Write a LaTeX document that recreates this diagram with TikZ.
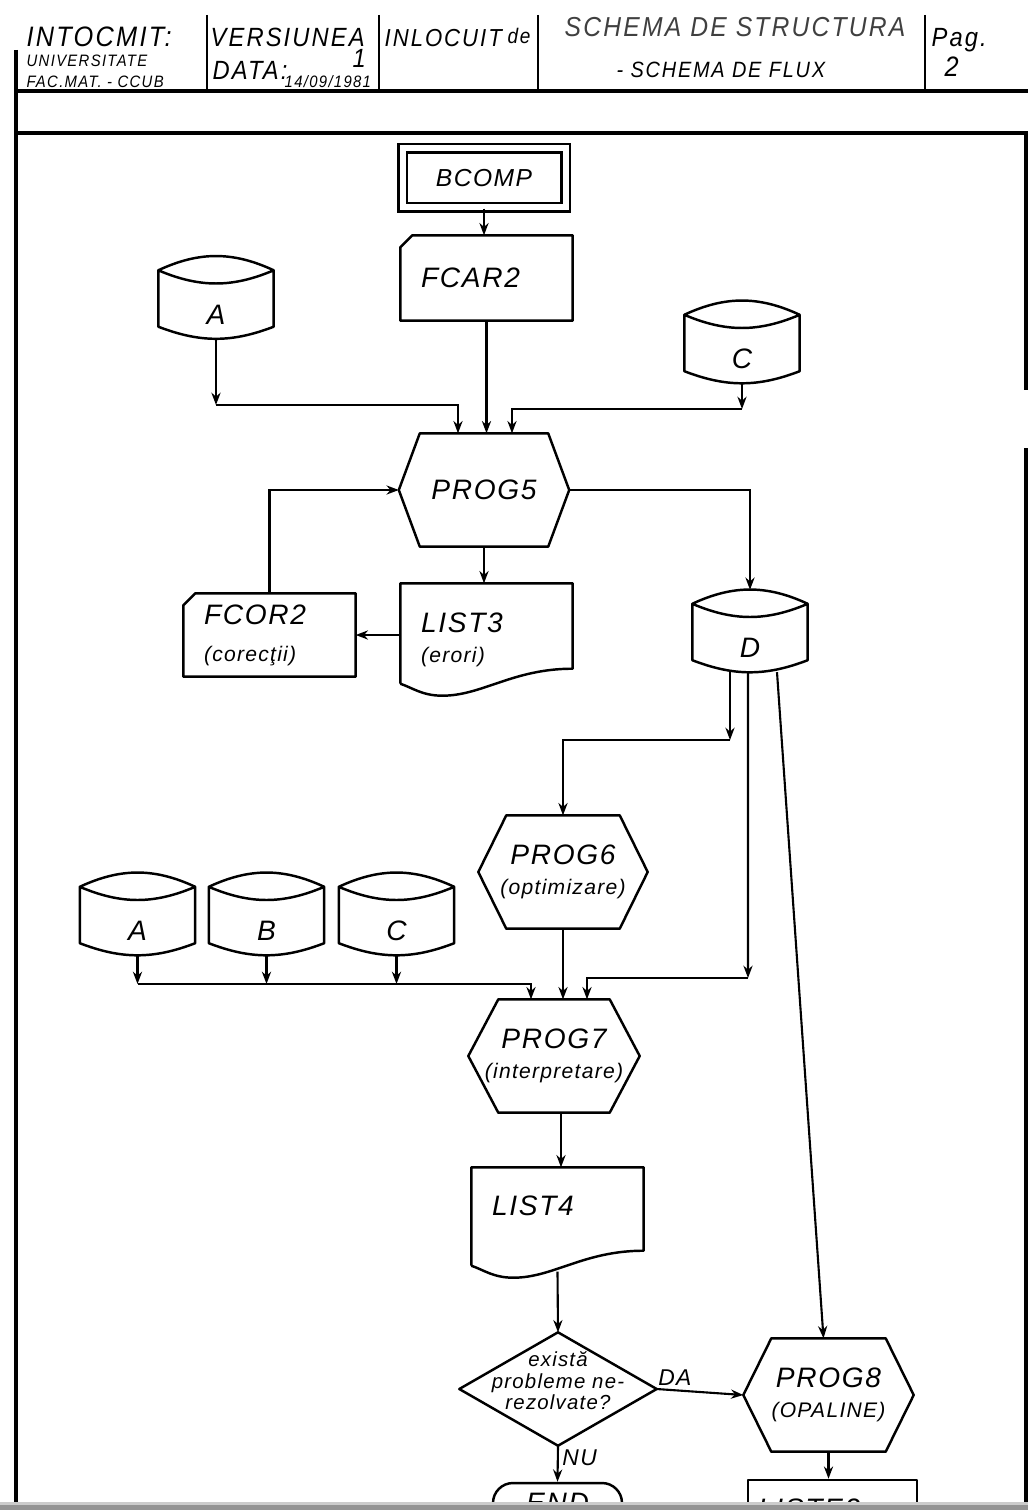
\documentclass[tikz,border=0pt]{standalone}
\usepackage{fontspec}
\setmainfont{Liberation Sans}[LetterSpace=6]
\newfontfamily\headfont{Liberation Sans}[LetterSpace=8, FakeStretch=0.9]
\usepackage{tikz}
\usetikzlibrary{positioning,arrows.meta}
\newcommand{\subtext}[1]{{\fontsize{6}{7}\selectfont #1}}

\begin{document}
\begin{tikzpicture}[
  shapeline/.style={line width=0.7pt, line join=round},
  frameline/.style={line width=1pt},
  flow/.style={-{Stealth[length=3.5pt,width=2.6pt]}, line width=0.6pt},
  outlined/.style={append after command={\pgfextra{\let\thisnode\tikzlastnode
    \begin{pgfinterruptpath}\draw[shapeline] #1;\end{pgfinterruptpath}}}},
  lettering/.style={font=\itshape\fontsize{8}{8.5}\selectfont},
  small/.style={font=\itshape\fontsize{5.8}{6}\selectfont},
  lbl/.style={font=\itshape\fontsize{6.5}{7}\selectfont, inner sep=1pt},
  head/.style={font=\headfont\itshape\fontsize{7.5}{8}\selectfont, inner sep=0pt, anchor=base west},
  headsmall/.style={head, font=\headfont\itshape\fontsize{4.7}{5}\selectfont},
  startbox/.style={draw, double, double distance=0.06cm, line width=0.6pt, inner sep=0pt,
    minimum width=1.63cm, minimum height=0.59cm, font=\itshape\fontsize{7}{8}\selectfont},
  hexbox/.style 2 args={lettering, align=center, inner sep=0pt, minimum width=#1, minimum height=1.12cm,
    outlined={([xshift=#2]\thisnode.north west) -- ([xshift=-#2]\thisnode.north east) -- (\thisnode.east)
      -- ([xshift=-#2]\thisnode.south east) -- ([xshift=#2]\thisnode.south west) -- (\thisnode.west) -- cycle}},
  disk/.style={lettering, inner sep=0pt, minimum width=1.14cm, text height=0.67cm, text depth=0.14cm,
    outlined={([yshift=-0.14cm]\thisnode.north west) to[bend left=25] ([yshift=-0.14cm]\thisnode.north east)
      to[bend left=23] ([yshift=-0.14cm]\thisnode.north west) -- ([yshift=0.12cm]\thisnode.south west)
      to[bend right=21] ([yshift=0.12cm]\thisnode.south east) -- ([yshift=-0.14cm]\thisnode.north east)}},
  card/.style={lettering, align=left, text width=1.31cm, inner xsep=0.2cm, inner ysep=0pt, minimum height=#1,
    outlined={([xshift=0.12cm]\thisnode.north west) -- (\thisnode.north east) -- (\thisnode.south east)
      -- (\thisnode.south west) -- ([yshift=-0.12cm]\thisnode.north west) -- cycle}},
  doc/.style={lettering, align=left, text width=1.31cm, inner xsep=0.2cm, inner ysep=0pt, minimum height=#1,
    outlined={([yshift=0.12cm]\thisnode.south west) -- (\thisnode.north west) -- (\thisnode.north east)
      -- ([yshift=0.27cm]\thisnode.south east) .. controls +(-0.6,0) and +(0.4,0) .. ([xshift=0.42cm]\thisnode.south west)
      .. controls +(-0.2,0) and +(0.12,-0.04) .. ([yshift=0.12cm]\thisnode.south west)}},
  decision/.style={small, align=center, inner sep=0pt, minimum width=1.96cm, minimum height=1.12cm,
    text depth=0.17cm,
    outlined={(\thisnode.north) -- (\thisnode.east) -- (\thisnode.south) -- (\thisnode.west) -- cycle}},
  terminal/.style={draw, shapeline, lettering, rounded corners=0.2cm, inner sep=0pt, minimum width=1.29cm,
    text height=0.29cm, text depth=0.2cm},
  listing/.style={draw, shapeline, lettering, align=left, text width=1.49cm, inner xsep=0.1cm, inner ysep=0pt,
    text height=0.38cm, text depth=0.3cm},
]
\useasboundingbox (0,0) rectangle (10.28,-15.10);
\fill[white] (0,0) rectangle (10.28,-15.10);

% Page frame and title block
\draw[frameline] (0.16,-0.50) -- (0.16,-15.10);
\draw[frameline] (0.16,-0.91) -- (10.28,-0.91);
\draw[frameline] (0.16,-1.33) -- (10.28,-1.33);
\draw[frameline] (10.26,-1.33) -- (10.26,-3.90);
\draw[frameline] (10.26,-4.48) -- (10.26,-15.10);
\draw[shapeline] (2.07,-0.15) -- (2.07,-0.91);
\draw[shapeline] (3.79,-0.15) -- (3.79,-0.91);
\draw[shapeline] (5.38,-0.15) -- (5.38,-0.91);
\draw[shapeline] (9.25,-0.15) -- (9.25,-0.91);

\node[head, font=\headfont\itshape\fontsize{8}{9}\selectfont] (maker) at (0.26,-0.47) {INTOCMIT:};
\node[headsmall] (univ) at (0.26,-0.67) {UNIVERSITATE};
\node[headsmall] (fac) at (0.26,-0.88) {FAC.MAT. - CCUB};
\node[head] (vers) at (2.10,-0.47) {VERSIUNEA};
\node[head] (versno) at (3.52,-0.68) {1};
\node[head] (date) at (2.12,-0.80) {DATA:};
\node[headsmall] (dateval) at (2.84,-0.88) {14/09/1981};
\node[head, font=\headfont\itshape\fontsize{7}{8}\selectfont] (repl) at (3.84,-0.47) {INLOCUIT};
\node[head, font=\headfont\itshape\fontsize{6}{7}\selectfont] (replde) at (5.07,-0.44) {de};
\node[head, black!75, font=\headfont\itshape\fontsize{7.8}{8.5}\selectfont] (title) at (5.64,-0.37) {SCHEMA DE STRUCTURA};
\node[head, font=\headfont\itshape\fontsize{6.3}{7}\selectfont] (subtitle) at (6.16,-0.78) {- SCHEMA DE FLUX};
\node[head] (page) at (9.31,-0.47) {Pag.};
\node[head, font=\headfont\itshape\fontsize{8}{9}\selectfont] (pageno) at (9.44,-0.77) {2};

% Upper part: compile and correct
\node[startbox] (bcomp) at (4.84,-1.78) {BCOMP};
\node[card=0.84cm] (fcar) at (4.865,-2.78) {FCAR2};
\node[disk] (srcA) at (2.16,-2.975) {A};
\node[disk] (srcC) at (7.42,-3.42) {C};
\node[hexbox={1.69cm}{0.21cm}] (prog5) at (4.84,-4.90) {PROG5};
\node[doc=1.11cm] (list3) at (4.865,-6.395) {LIST3\\\subtext{(erori)}};
\node[card=0.82cm] (fcor) at (2.695,-6.35) {FCOR2\\[2pt]\subtext{(corecţii)}};
\node[disk] (store) at (7.50,-6.31) {D};

\coordinate (ja) at (2.16,-4.05);
\coordinate (jc) at (7.42,-4.09);
\draw[flow] (bcomp.south) -- (bcomp.south |- fcar.north);
\draw[flow] (fcar.south) -- (fcar.south |- prog5.north);
\draw[flow] (srcA.south) -- (ja);
\draw[flow] (ja) -| ([xshift=-0.26cm]prog5.north);
\draw[flow] (srcC.south) -- (jc);
\draw[flow] (jc) -| ([xshift=0.28cm]prog5.north);
\draw[flow] (prog5.south) -- (prog5.south |- list3.north);
\draw[flow] (list3.west |- fcor.east) -- (fcor.east);
\draw[flow] (fcor.north) |- (prog5.west);
\draw[flow] (prog5.east) -| (store.north);

% Lower part: optimize, interpret, print
\node[hexbox={1.68cm}{0.28cm}] (prog6) at (5.63,-8.72) {PROG6\\\subtext{(optimizare)}};
\node[disk] (libA) at (1.375,-9.14) {A};
\node[disk] (libB) at (2.665,-9.14) {B};
\node[disk] (libC) at (3.965,-9.14) {C};
\node[hexbox={1.70cm}{0.30cm}] (prog7) at (5.54,-10.56) {PROG7\\\subtext{(interpretare)}};
\node[doc=1.09cm, text height=0.47cm, text depth=0.62cm] (list4) at (5.575,-12.225) {LIST4};
\node[decision] (ask) at (5.58,-13.89) {există\\probleme ne-\\rezolvate?};
\node[hexbox={1.69cm}{0.28cm}] (prog8) at (8.285,-13.95) {PROG8\\\subtext{(OPALINE)}};
\node[terminal] (stop) at (5.575,-15.075) {END};
\node[listing] (liste2) at (8.325,-15.14) {LISTE2};

\coordinate (jd1) at (7.30,-7.40);
\coordinate (jd2) at (7.48,-9.78);
\coordinate (bus) at (1.375,-9.84);
\draw[flow] ([xshift=-0.2cm]store.south) -- (jd1);
\draw[flow] (jd1) -| (prog6.north);
\draw[flow] ([xshift=-0.02cm]store.south) -- (jd2);
\draw[flow] (jd2) -| ([xshift=0.33cm]prog7.north);
\draw[flow] ([xshift=0.27cm]store.south) -- ([xshift=-0.05cm]prog8.north);
\draw[flow] (prog6.south) -- (prog6.south |- prog7.north);
\draw[flow] (libA.south) -- (bus);
\draw[flow] (bus) -| ([xshift=-0.23cm]prog7.north);
\draw[flow] (libB.south) -- (libB.south |- bus);
\draw[flow] (libC.south) -- (libC.south |- bus);
\draw[flow] ([xshift=0.07cm]prog7.south) -- ([xshift=0.07cm]prog7.south |- list4.north);
\draw[flow] ([yshift=0.06cm]list4.south) -- (ask.north);
\draw[flow] (ask.east) -- (prog8.west) node[lbl, pos=0.21, above] {DA};
\draw[flow] (ask.south) -- (stop.north) node[lbl, pos=0.32, right] {NU};
\draw[flow] (prog8.south) -- (prog8.south |- liste2.north);

% scanner edge
\fill[black!20] (0,-15.02) rectangle (10.28,-15.05);
\fill[black!42] (0,-15.05) rectangle (10.28,-15.10);
\end{tikzpicture}
\end{document}
